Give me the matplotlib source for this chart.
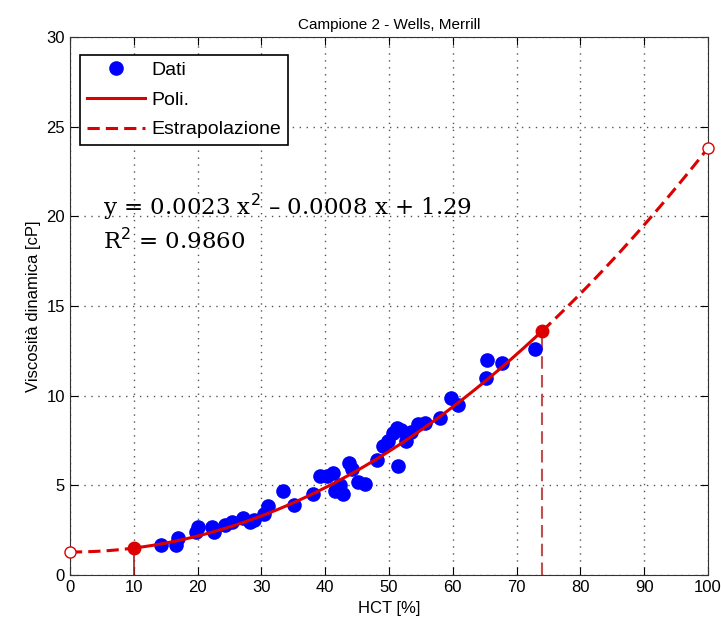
import numpy as np
import matplotlib.pyplot as plt

plt.rcParams['font.family'] = ['Liberation Sans', 'DejaVu Sans']

# dati
hct = [14.3, 16.6, 16.9, 19.7, 20.1, 22.3, 22.6, 24.3, 25.4, 27.1, 28.2, 28.8,
       30.4, 31.0, 33.4, 35.1, 38.1, 39.2, 40.3, 41.2, 41.5, 42.3, 42.8, 43.7,
       44.2, 45.1, 46.2, 48.1, 49.1, 49.8, 50.6, 51.3, 51.4, 51.9, 52.7, 53.4,
       54.5, 55.6, 58.0, 59.7, 60.8, 65.2, 65.4, 67.7, 72.9]
visc = [1.67, 1.67, 2.06, 2.4, 2.7, 2.7, 2.4, 2.8, 2.95, 3.2, 2.95, 3.07,
        3.4, 3.85, 4.7, 3.9, 4.5, 5.5, 5.5, 5.7, 4.7, 5.0, 4.5, 6.25,
        5.9, 5.2, 5.1, 6.4, 7.2, 7.5, 7.9, 8.2, 6.1, 8.1, 7.5, 8.0,
        8.4, 8.5, 8.75, 9.9, 9.5, 11.0, 12.0, 11.8, 12.6]

coef = [0.00226, -0.0008, 1.29]
x_min, x_max = 10, 74      # intervallo dei dati
x_lo, x_hi = 0, 100        # estrapolazione

xticks = [0, 10, 20, 30, 40, 50, 60, 70, 80, 90, 100]
yticks = [0, 5, 10, 15, 20, 25, 30]

red = '#dd0000'

fig = plt.figure(figsize=(7.21, 6.32), dpi=100)
ax = fig.add_axes([0.097, 0.090, 0.885, 0.8515])

xf = np.linspace(x_min, x_max, 200)
xl = np.linspace(x_lo, x_min, 50)
xh = np.linspace(x_max, x_hi, 100)

# linee verticali agli estremi
ax.plot([x_min, x_min], [0, np.polyval(coef, x_min)], color='#a02020', lw=1.2)
ax.plot([x_max, x_max], [0, np.polyval(coef, x_max)], color='#c05050', lw=1.5,
        dashes=(6, 3))

ax.plot(hct, visc, 'o', color='blue', ms=9.5, label='Dati', zorder=3)
ax.plot(xf, np.polyval(coef, xf), '-', color=red, lw=2.2, label='Poli.', zorder=4)
ax.plot(xh, np.polyval(coef, xh), color=red, lw=2.2, dashes=(4, 2),
        label='Estrapolazione', zorder=4)
ax.plot(xl, np.polyval(coef, xl), color=red, lw=2.2, dashes=(4, 2), zorder=4)

ax.plot([x_min, x_max], np.polyval(coef, [x_min, x_max]), 'o', color=red,
        ms=9, zorder=5)
ax.plot([x_lo, x_hi], np.polyval(coef, [x_lo, x_hi]), 'o', mfc='white',
        mec=red, ms=8, mew=1.0, zorder=5, clip_on=False)

ax.set_xlim(0, 100)
ax.set_ylim(0, 30)
ax.set_xticks(xticks)
ax.set_yticks(yticks)
ax.tick_params(direction='in', top=True, right=True, labelsize=12, length=6)
ax.grid(True, linestyle=(0, (1, 4)), color='#555555', lw=1.0)
for s in ax.spines.values():
    s.set_color('#333333')

ax.set_xlabel('HCT [%]', fontsize=12)
ax.set_ylabel('Viscosità dinamica [cP]', fontsize=12)
ax.set_title('Campione 2 - Wells, Merrill', fontsize=11)

leg = ax.legend(loc='upper left', fontsize=14, fancybox=False, framealpha=1,
                edgecolor='black', handlelength=3.0, handletextpad=0.3,
                borderpad=0.35, labelspacing=0.62, borderaxespad=0,
                bbox_to_anchor=(0.016, 0.967))
leg.get_frame().set_linewidth(1.2)

ax.text(5.2, 20.1, 'y = 0.0023 x$^2$ – 0.0008 x + 1.29', family='DejaVu Serif',
        fontsize=16.5)
ax.text(5.2, 18.2, 'R$^2$ = 0.9860', family='DejaVu Serif', fontsize=16.5)

plt.savefig('out.png', dpi=100)
